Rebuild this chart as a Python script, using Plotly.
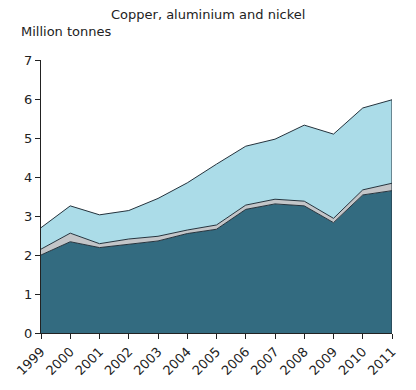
import plotly.graph_objects as go

years = list(range(1999, 2012))
series_bottom = [2.00, 2.34, 2.19, 2.27, 2.36, 2.55, 2.66, 3.17, 3.31, 3.26, 2.83, 3.54, 3.65]
series_middle = [0.15, 0.22, 0.10, 0.14, 0.12, 0.09, 0.11, 0.11, 0.12, 0.12, 0.11, 0.13, 0.19]
series_top = [0.55, 0.70, 0.74, 0.73, 0.97, 1.21, 1.56, 1.51, 1.54, 1.95, 2.16, 2.10, 2.14]
series_names = ["Series 1", "Series 2", "Series 3"]
colors = ["#336b80", "#c3c5c8", "#abdce8"]
line_color = "#25333d"

fig = go.Figure()
for name, vals, col in zip(series_names, [series_bottom, series_middle, series_top], colors):
    fig.add_trace(go.Scatter(
        x=years, y=vals, name=name, stackgroup="one", mode="lines",
        fillcolor=col, line=dict(color=line_color, width=1),
    ))

total_last = series_bottom[-1] + series_middle[-1] + series_top[-1]
fig.add_shape(type="line", x0=years[-1], x1=years[-1], y0=0, y1=total_last,
              xref="x", yref="y", line=dict(color=line_color, width=1))

font = "Verdana, DejaVu Sans, sans-serif"
OFF = 8  # page body margin
W, H = 416 - OFF, 390 - OFF
L, R, T, B = 41 - OFF, 24, 60 - OFF, 57
pw = W - L - R
ph = H - T - B
fig.update_layout(
    width=W, height=H,
    margin=dict(l=L, r=R, t=T, b=B, autoexpand=False),
    paper_bgcolor="white", plot_bgcolor="white",
    showlegend=False,
    font=dict(family=font, size=13, color="#222222"),
    annotations=[
        dict(text="Copper, aluminium and nickel", x=(208 - OFF - L) / pw, xref="paper", xanchor="center",
             y=(H - B + 3) / ph, yref="paper", yanchor="top", showarrow=False,
             font=dict(size=13)),
        dict(text="Million tonnes", x=(19 - OFF - L) / pw, xref="paper", xanchor="left",
             y=(H - B - 14) / ph, yref="paper", yanchor="top", showarrow=False,
             font=dict(size=13)),
    ],
)

fig.update_xaxes(
    range=[1999, 2011], tickmode="array", tickvals=years, ticktext=[str(y) for y in years],
    tickangle=-45, ticks="outside", ticklen=5, tickcolor="#222", showline=True,
    linecolor="#222", linewidth=1, showgrid=False, zeroline=False, automargin=False,
)
fig.update_yaxes(
    range=[0, 7], dtick=1, ticks="outside", ticklen=5, tickcolor="#222", showline=True,
    linecolor="#222", linewidth=1, showgrid=False, zeroline=False, automargin=False,
)
fig.write_html("out.html")
